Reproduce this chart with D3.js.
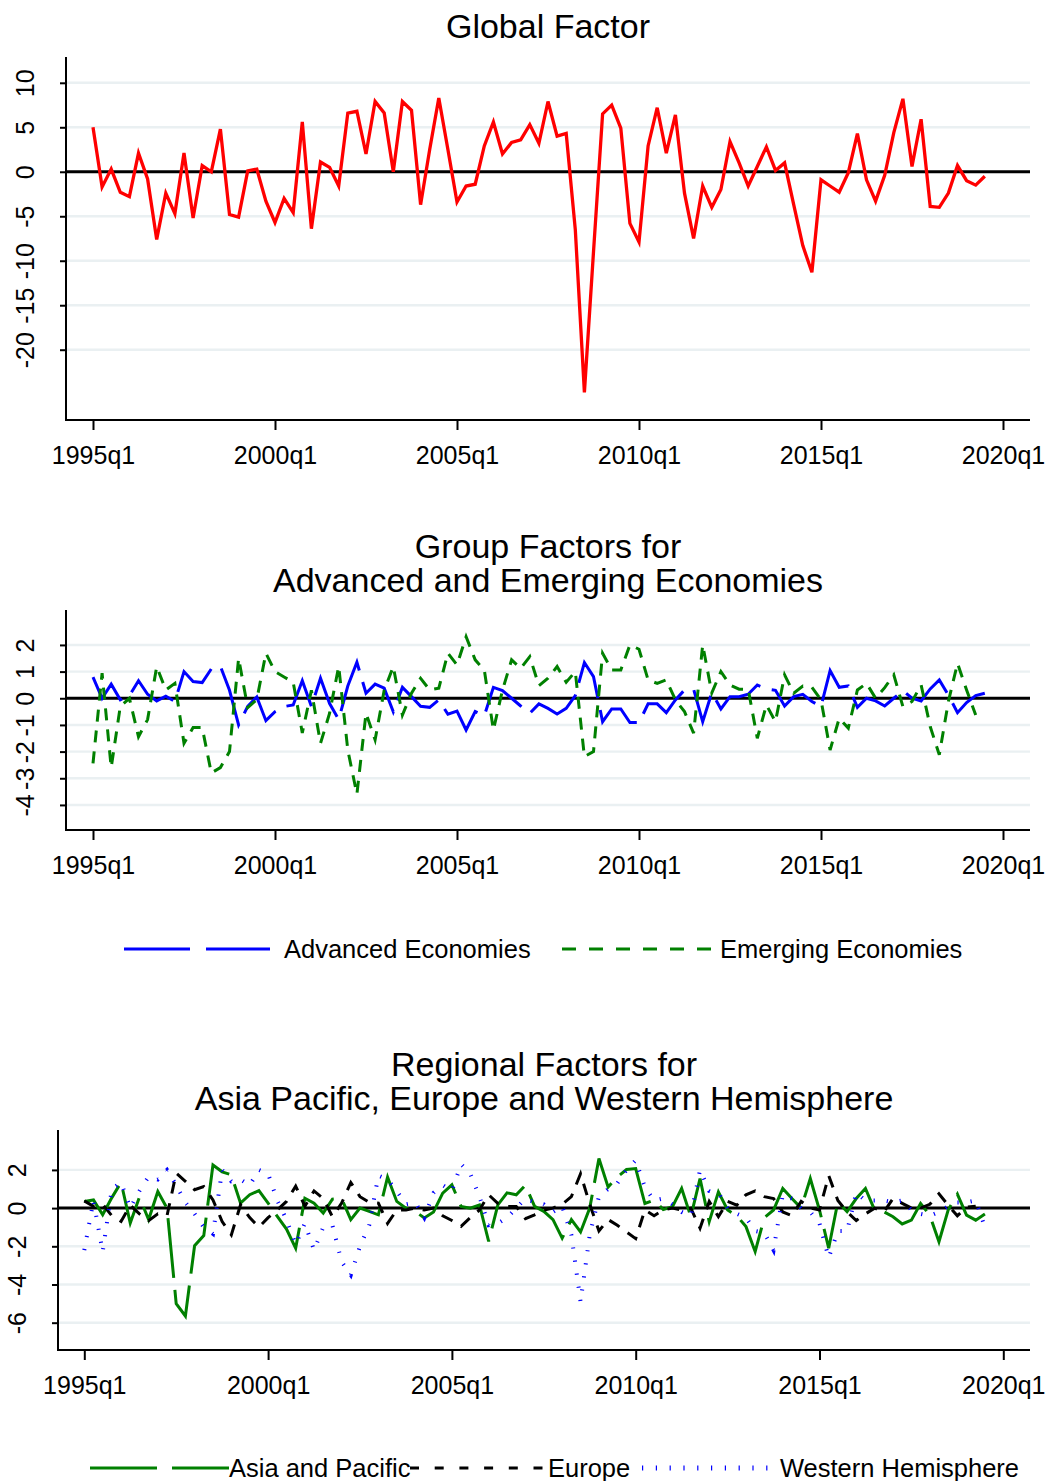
<!DOCTYPE html>
<html>
<head>
<meta charset="utf-8">
<script src="https://cdn.jsdelivr.net/npm/d3@7"></script>
<style>
  body { margin: 0; background: #fff; }
  svg text { font-family: 'Liberation Sans', Arial, sans-serif; fill: #000; }
</style>
</head>
<body>
<svg id="chart" width="1046" height="1481"></svg>
<script>
// Quarterly data, 1995q1 onward (index 0 = 1995q1)
const tick_quarters = [0, 20, 40, 60, 80, 100];
const tick_labels = ['1995q1', '2000q1', '2005q1', '2010q1', '2015q1', '2020q1'];

const global_factor = [
  5.0, -1.7, 0.3, -2.3, -2.8, 2.1, -0.8, -7.6, -2.4, -4.7,
  2.1, -5.2, 0.7, 0.0, 4.8, -4.8, -5.1, 0.1, 0.3, -3.3,
  -5.7, -3.0, -4.6, 5.6, -6.4, 1.1, 0.5, -1.6, 6.6, 6.8,
  2.0, 7.9, 6.6, 0.0, 7.9, 6.9, -3.7, 2.5, 8.3, 2.5,
  -3.4, -1.6, -1.4, 2.9, 5.6, 2.0, 3.3, 3.6, 5.3, 3.2,
  7.9, 4.0, 4.3, -6.5, -24.8, -9.0, 6.5, 7.5, 4.9, -5.8,
  -7.9, 2.9, 7.2, 2.1, 6.4, -2.4, -7.5, -1.6, -4.0, -2.0,
  3.4, 1.0, -1.6, 0.6, 2.8, 0.15, 1.0, -3.7, -8.3, -11.3,
  -0.9, -1.6, -2.3, -0.1, 4.3, -0.9, -3.3, -0.4, 4.4, 8.2,
  0.6, 5.9, -3.9, -4.0, -2.4, 0.7, -1.0, -1.5, -0.5
];

const advanced_economies = [
  0.79, 0.0, 0.53, -0.06, 0.1, 0.66, 0.15, -0.1, 0.08, -0.12,
  1.0, 0.63, 0.59, 1.1, 1.2, 0.3, -1.0, -0.3, 0.05, -0.84,
  -0.5, -0.31, -0.25, 0.66, -0.31, 0.75, -0.2, -0.8, 0.46, 1.35,
  0.19, 0.53, 0.38, -0.51, 0.41, 0.06, -0.3, -0.34, -0.06, -0.6,
  -0.48, -1.19, -0.5, -0.66, 0.41, 0.29, 0.0, -0.29, -0.56, -0.21,
  -0.38, -0.59, -0.38, 0.1, 1.34, 0.81, -0.88, -0.4, -0.4, -0.91,
  -0.91, -0.21, -0.21, -0.54, -0.06, 0.31, 0.34, -0.88, 0.21, -0.4,
  0.06, 0.06, 0.15, 0.5, 0.35, 0.3, -0.29, 0.06, 0.15, -0.12,
  -0.31, 1.04, 0.41, 0.46, -0.34, 0.0, -0.1, -0.29, 0.0, 0.29,
  0.0, -0.1, 0.35, 0.69, 0.12, -0.54, -0.16, 0.1, 0.19
];

const emerging_economies = [
  -2.44, 0.94, -2.6, -0.3, 0.0, -1.44, -0.8, 1.19, 0.31, 0.56,
  -1.69, -1.1, -1.1, -2.8, -2.6, -2.0, 1.5, -0.35, -0.05, 1.69,
  1.0, 0.8, 0.6, -1.3, 0.3, -1.69, -0.56, 1.2, -1.94, -3.6,
  -0.56, -1.56, 0.3, 1.19, -0.63, 0.19, 0.75, 0.31, 0.38, 1.69,
  1.25, 2.31, 1.44, 1.06, -1.19, 0.31, 1.44, 1.12, 1.56, 0.47,
  0.75, 1.19, 0.6, 1.0, -2.19, -2.0, 1.69, 1.06, 1.06, 2.0,
  1.84, 0.69, 0.56, 0.69, -0.06, -0.5, -1.31, 2.0, 0.2, 1.0,
  0.5, 0.34, 0.34, -1.5, -0.25, -0.88, 0.88, 0.19, 0.46, 0.41,
  -0.06, -1.94, -0.75, -1.12, 0.31, 0.56, 0.0, 0.4, 0.88, -0.31,
  -0.12, 0.5, -1.06, -2.12, -0.12, 1.31, 0.31, -0.63
];

const asia_pacific = [
  0.35, 0.43, -0.35, 0.55, 1.35, -0.78, 0.57, -0.6, 0.87, 0.0,
  -5.0, -5.65, -1.97, -1.44, 2.26, 1.9, 1.74, 0.26, 0.7, 0.92,
  0.26, -0.43, -1.1, -2.1, 0.52, 0.26, -0.26, 0.47, 0.5, -0.6,
  0.0, -0.17, -0.35, 1.62, 0.35, 0.0, -0.17, -0.52, -0.2, 0.78,
  1.22, 0.09, 0.0, 0.17, -1.74, 0.17, 0.8, 0.7, 1.2, 0.09,
  -0.17, -0.6, -1.57, -0.6, -1.25, 0.0, 2.6, 1.1, 1.63, 2.02,
  2.07, 0.24, 0.42, -0.07, 0.07, 1.03, -0.45, 1.55, -0.71, 0.85,
  -0.1, -0.4, -0.97, -2.28, -0.5, -0.1, 1.03, 0.5, 0.0, 1.55,
  -0.1, -2.1, 0.33, -0.19, 0.5, 1.03, -0.1, -0.19, -0.45, -0.83,
  -0.63, 0.24, -0.37, -1.76, -0.1, 0.73, -0.37, -0.63, -0.31
];

const europe = [
  0.38, 0.09, 0.2, -0.4, -0.7, 0.15, -0.3, -0.66, -0.3, -0.4,
  1.83, 1.4, 0.96, 1.13, 0.43, -0.7, -1.4, 0.17, -0.5, -1.0,
  -0.5, -0.1, 0.35, 1.15, 0.1, 0.9, 0.5, -0.45, 0.26, 1.34,
  0.6, 0.3, 0.26, -0.8, -0.1, -0.1, 0.0, -0.1, 0.0, -0.4,
  -0.65, -0.95, -0.5, -0.1, 0.7, 0.25, 0.09, 0.09, -0.55, -0.35,
  -0.1, 0.0, 0.2, 0.6, 1.8, 0.2, -1.2, -0.6, -0.9, -1.25,
  -1.6, -0.1, -0.4, -0.1, 0.0, -0.1, 0.0, -1.05, 0.35, -0.45,
  0.35, 0.15, 0.7, 0.9, 0.6, 0.5, -0.2, -0.4, 0.35, 0.0,
  -0.1, 1.7, 0.4, -0.2, -0.65, -0.3, 0.0, -0.2, 0.5, 0.25,
  0.0, 0.0, 0.2, 0.75, 0.15, -0.4, 0.05, 0.1
];

const western_hemisphere = [
  -2.2, 0.4, -2.3, 1.0, 1.35, 0.0, 0.9, 1.65, 1.5, 2.0,
  1.2, 0.3, -0.3, -1.0, -1.35, 2.0, 1.4, 1.5, 1.2, 2.0,
  1.8, 0.4, -0.6, -1.9, -0.8, -2.2, -1.0, -0.9, -2.8, -3.5,
  -2.0, -0.9, 1.7, 1.5, 0.9, 0.2, 0.3, -0.5, 0.8, 1.2,
  0.9, 2.3, 1.8, 0.6, -0.9, -0.8, -0.5, 0.0, 0.5, 0.3,
  0.2, -0.2, 0.1, -1.4, -4.9, -1.4, 0.6, 1.0, 1.3, 2.0,
  2.5, 1.1, 0.4, 0.5, 0.2, -0.2, -0.4, 2.0, 0.9, 0.8,
  0.0, -0.3, -0.5, -1.2, -1.3, -2.2, 0.7, 0.5, 0.0, -0.2,
  -0.8, -2.6, -1.2, -1.2, 0.8, 0.4, 0.4, 0.4, 0.3, 0.4,
  -0.1, -0.3, -0.4, -0.2, 0.1, 0.3, 0.3, 0.4, -1.0
];

const svg = d3.select('#chart');
svg.append('rect').attr('width', 1046).attr('height', 1481).attr('fill', '#fff');

const grid_color = '#eaf0f2';

// Draws one framed panel: grid, zero line, series, axes, title
function draw_panel(cfg) {
    const g = svg.append('g');
    const x = d3.scaleLinear().domain([0, 100]).range(cfg.x_range);
    const y = d3.scaleLinear().domain(cfg.y_domain).range([cfg.bottom, cfg.top]);

    // Grid lines (the zero one gets the black line instead)
    g.selectAll('line.grid')
        .data(cfg.y_ticks.filter(d => d !== 0))
        .join('line')
        .attr('class', 'grid')
        .attr('x1', cfg.left).attr('x2', cfg.right)
        .attr('y1', d => y(d)).attr('y2', d => y(d))
        .attr('stroke', grid_color).attr('stroke-width', 2.4);

    g.append('line')
        .attr('x1', cfg.left).attr('x2', cfg.right)
        .attr('y1', y(0)).attr('y2', y(0))
        .attr('stroke', '#000').attr('stroke-width', 3);

    // series are drawn in legend order, later ones on top
    const line = d3.line().x((d, i) => x(i)).y(d => y(d));
    cfg.series.forEach((s) => {
        g.append('path')
            .datum(s.values)
            .attr('d', line)
            .attr('fill', 'none')
            .attr('stroke', s.color)
            .attr('stroke-width', s.width)
            .attr('stroke-dasharray', s.dash)
            .attr('stroke-linejoin', 'miter')
            .attr('stroke-linecap', 'butt');
    });

    // x axis
    const x_axis = g.append('g')
        .attr('transform', `translate(0,${cfg.bottom})`)
        .call(d3.axisBottom(x)
            .tickValues(tick_quarters)
            .tickFormat((d, i) => tick_labels[i])
            .tickSize(10).tickSizeOuter(0).tickPadding(16));
    x_axis.select('.domain').remove();
    x_axis.selectAll('.tick line').attr('stroke-width', 2);
    x_axis.selectAll('.tick text').attr('font-size', 25);

    // y axis, labels turned sideways like the original (plain hyphen minus)
    const y_axis = g.append('g')
        .attr('transform', `translate(${cfg.left},0)`)
        .call(d3.axisLeft(y).tickValues(cfg.y_ticks).tickFormat(d => String(d))
            .tickSize(6).tickSizeOuter(0));
    y_axis.select('.domain').remove();
    y_axis.selectAll('.tick line').attr('stroke-width', 2);
    y_axis.selectAll('.tick text')
        .attr('font-size', 25)
        .attr('x', 0).attr('dy', '0.35em')
        .attr('text-anchor', 'middle')
        .attr('transform', `translate(${cfg.label_x - cfg.left},0) rotate(-90)`);

    // frame lines
    g.append('line')
        .attr('x1', cfg.left).attr('x2', cfg.left)
        .attr('y1', cfg.top).attr('y2', cfg.bottom + 1)
        .attr('stroke', '#000').attr('stroke-width', 2);
    g.append('line')
        .attr('x1', cfg.left - 1).attr('x2', cfg.right)
        .attr('y1', cfg.bottom).attr('y2', cfg.bottom)
        .attr('stroke', '#000').attr('stroke-width', 2);

    // title, one text element with a tspan per line
    const cx = (cfg.left + cfg.right) / 2;
    const title = g.append('text')
        .attr('text-anchor', 'middle')
        .attr('font-size', 34);
    cfg.title.forEach((t, i) => {
        title.append('tspan')
            .attr('x', cx).attr('y', cfg.title_y + i * 34)
            .text(t);
    });
}

function draw_legend(items, y) {
    const g = svg.append('g');
    items.forEach((it) => {
        g.append('line')
            .attr('x1', it.x1).attr('x2', it.x2)
            .attr('y1', y).attr('y2', y)
            .attr('stroke', it.color)
            .attr('stroke-width', it.width)
            .attr('stroke-dasharray', it.dash);
        g.append('text')
            .attr('x', it.text_x).attr('y', y + 9)
            .attr('font-size', 25.5)
            .text(it.label);
    });
}

draw_panel({
    title: ['Global Factor'], title_y: 38,
    left: 66, right: 1030, top: 57, bottom: 420,
    x_range: [93, 1003], y_domain: [-27.9, 12.9],
    y_ticks: [10, 5, 0, -5, -10, -15, -20], label_x: 25,
    series: [
        { values: global_factor, color: '#ff0000', width: 3.3, dash: null }
    ]
});

draw_panel({
    title: ['Group Factors for', 'Advanced and Emerging Economies'], title_y: 558,
    left: 66, right: 1030, top: 610, bottom: 830,
    x_range: [93, 1003], y_domain: [-4.94, 3.31],
    y_ticks: [2, 1, 0, -1, -2, -3, -4], label_x: 25,
    series: [
        { values: advanced_economies, color: '#0000ff', width: 3, dash: '60 12' },
        { values: emerging_economies, color: '#008000', width: 3, dash: '12 9' }
    ]
});

draw_legend([
    { x1: 124, x2: 270, color: '#0000ff', width: 3.2, dash: '66 16', text_x: 284, label: 'Advanced Economies' },
    { x1: 562, x2: 720, color: '#008000', width: 3.2, dash: '14 13', text_x: 720, label: 'Emerging Economies' }
], 949);

draw_panel({
    title: ['Regional Factors for', 'Asia Pacific, Europe and Western Hemisphere'], title_y: 1076,
    left: 58, right: 1030, top: 1130, bottom: 1350,
    x_range: [84.3, 1003.3], y_domain: [-7.43, 4.09],
    y_ticks: [2, 0, -2, -4, -6], label_x: 17,
    series: [
        { values: asia_pacific, color: '#008000', width: 3, dash: '60 12' },
        { values: europe, color: '#000000', width: 3, dash: '12 10' },
        { values: western_hemisphere, color: '#0000ff', width: 4, dash: '1.2 12' }
    ]
});

draw_legend([
    { x1: 90, x2: 229, color: '#008000', width: 3.2, dash: '67 15', text_x: 229, label: 'Asia and Pacific' },
    { x1: 410, x2: 548, color: '#000000', width: 3.2, dash: '9 15.7', text_x: 548, label: 'Europe' },
    { x1: 642, x2: 776, color: '#0000ff', width: 5, dash: '1.2 12.6', text_x: 780, label: 'Western Hemisphere' }
], 1468);
</script>
</body>
</html>
